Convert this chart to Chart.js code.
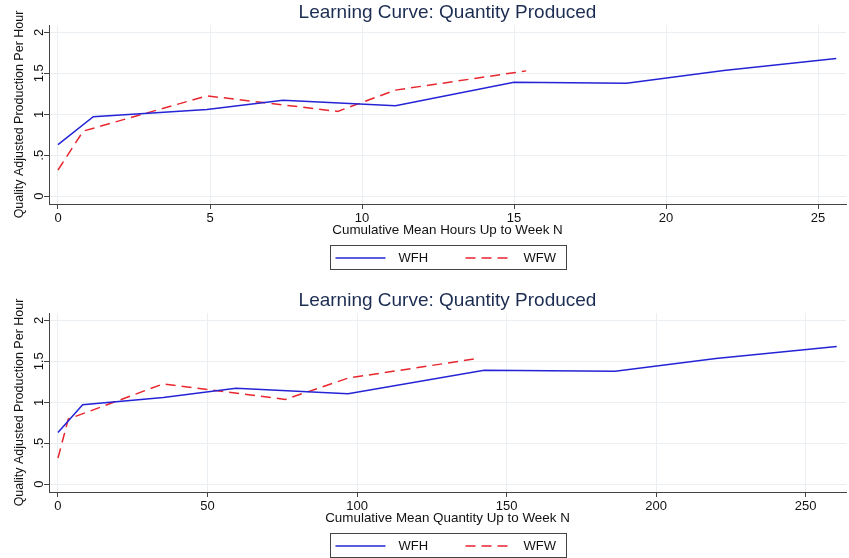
<!DOCTYPE html>
<html>
<head>
<meta charset="utf-8">
<script src="https://cdn.jsdelivr.net/npm/chart.js@4.4.1/dist/chart.umd.min.js"></script>
<style>
  html, body { margin: 0; padding: 0; background: #fff; }
  .panel { position: absolute; left: 0; width: 849px; }
  #topPanel { top: 0; height: 271px; }
  #bottomPanel { top: 288px; height: 270px; }
</style>
</head>
<body>
<div class="panel" id="topPanel"><canvas id="hoursChart"></canvas></div>
<div class="panel" id="bottomPanel"><canvas id="quantityChart"></canvas></div>
<script>
var chartTitle = 'Learning Curve: Quantity Produced';
var yTitle = 'Quality Adjusted Production Per Hour';
var yTicks = [0, 0.5, 1, 1.5, 2];

// top panel: cumulative mean hours
var hoursTicks = [0, 5, 10, 15, 20, 25];
var hoursWfhX = [0, 1.16, 4.9, 7.4, 11.1, 15.0, 18.7, 21.9, 25.6];
var hoursWfwX = [0, 0.83, 4.9, 9.2, 11.1, 15.4];

// bottom panel: cumulative mean quantity
var quantityTicks = [0, 50, 100, 150, 200, 250];
var quantityWfhX = [0, 8.25, 35.2, 59.5, 97, 142.5, 186.3, 220, 260.4];
var quantityWfwX = [0, 3.45, 35.2, 76, 97, 139.5];

// production per hour (same weeks in both panels)
var wfhY = [0.63, 0.97, 1.06, 1.17, 1.105, 1.39, 1.38, 1.535, 1.68];
var wfwY = [0.32, 0.795, 1.225, 1.035, 1.295, 1.53];

var BLUE = '#2424d6';
var RED = '#e8262d';
var FONT = '"Liberation Sans", Arial, Helvetica, sans-serif';

function toPoints(xs, ys) {
  return xs.map(function (x, i) { return { x: x, y: ys[i] }; });
}

function formatY(v) {
  if (v === 0) return '0';
  var s = String(v);
  return s.charAt(0) === '0' ? s.slice(1) : s;
}

// Stata-style boxed legend under the plot
var boxedLegend = {
  id: 'boxedLegend',
  afterDraw: function (chart) {
    var ctx = chart.ctx;
    var ca = chart.chartArea;
    var left = Math.round((ca.left + ca.right) / 2 - 117.5) + 0.5;
    var top = Math.round(ca.bottom + 41) + 0.5;
    var midY = top + 12.5;
    ctx.save();
    ctx.strokeStyle = '#444';
    ctx.lineWidth = 1;
    ctx.strokeRect(left, top, 236, 24);
    var items = [
      { x0: 5, x1: 55, tx: 68 },
      { x0: 135, x1: 182, tx: 193 }
    ];
    chart.data.datasets.forEach(function (ds, i) {
      var it = items[i];
      ctx.beginPath();
      ctx.setLineDash(ds.borderDash || []);
      ctx.strokeStyle = ds.borderColor;
      ctx.lineWidth = ds.borderWidth;
      ctx.moveTo(left + it.x0, midY);
      ctx.lineTo(left + it.x1, midY);
      ctx.stroke();
      ctx.setLineDash([]);
      ctx.fillStyle = '#111';
      ctx.font = '13px ' + FONT;
      ctx.textBaseline = 'middle';
      ctx.textAlign = 'left';
      ctx.fillText(ds.label, left + it.tx, midY + 0.5);
    });
    ctx.restore();
  }
};

function makeChart(canvasId, xTicks, xMin, xMax, xLabel, wfhX, wfwX, bottomPad) {
  var canvas = document.getElementById(canvasId);
  return new Chart(canvas, {
    type: 'line',
    data: {
      datasets: [
        {
          label: 'WFH',
          data: toPoints(wfhX, wfhY),
          borderColor: BLUE,
          backgroundColor: BLUE,
          borderWidth: 1.5,
          pointRadius: 0,
          tension: 0,
        },
        {
          label: 'WFW',
          data: toPoints(wfwX, wfwY),
          borderColor: RED,
          backgroundColor: RED,
          borderWidth: 1.5,
          borderDash: [10, 6],
          pointRadius: 0,
          tension: 0,
        },
      ],
    },
    options: {
      responsive: true,
      maintainAspectRatio: false,
      animation: false,
      layout: { padding: { top: 0, right: 3, bottom: bottomPad, left: 0 } },
      plugins: {
        legend: { display: false },
        tooltip: { enabled: false },
        title: {
          display: true,
          fullSize: false,
          text: chartTitle,
          color: '#1c2d52',
          font: { family: FONT, size: 19, weight: 'normal', lineHeight: 1.1 },
          padding: { top: 2.5, bottom: 1.6 },
        },
      },
      scales: {
        x: {
          type: 'linear',
          min: xMin,
          max: xMax,
          afterBuildTicks: function (scale) {
            scale.ticks = xTicks.map(function (v) { return { value: v }; });
          },
          afterFit: function (scale) { scale.height = 36; },
          grid: { color: '#e9eff2', tickColor: '#444', tickLength: 5, lineWidth: 1 },
          border: { color: '#444', width: 1 },
          ticks: {
            color: '#111',
            padding: 3,
            maxRotation: 0,
            font: { family: FONT, size: 13, lineHeight: 1 },
          },
          title: {
            display: true,
            text: xLabel,
            color: '#111',
            font: { family: FONT, size: 13.4, lineHeight: 1 },
            padding: { top: 0, bottom: 2.5 },
          },
        },
        y: {
          type: 'linear',
          min: -0.095,
          max: 2.09,
          afterBuildTicks: function (scale) {
            scale.ticks = yTicks.map(function (v) { return { value: v }; });
          },
          afterFit: function (scale) { scale.width = 49; },
          grid: { color: '#e9eff2', tickColor: '#444', tickLength: 5, lineWidth: 1 },
          border: { color: '#444', width: 1 },
          ticks: {
            color: '#111',
            padding: -4,
            minRotation: 90,
            maxRotation: 90,
            crossAlign: 'center',
            font: { family: FONT, size: 13 },
            callback: function (v) { return formatY(v); },
          },
          title: {
            display: true,
            text: yTitle,
            color: '#111',
            font: { family: FONT, size: 12.5, lineHeight: 1.2 },
            padding: { top: 12, bottom: 0 },
          },
        },
      },
    },
    plugins: [boxedLegend],
  });
}

makeChart('hoursChart', hoursTicks, -0.296, 25.92, 'Cumulative Mean Hours Up to Week N', hoursWfhX, hoursWfwX, 31);
makeChart('quantityChart', quantityTicks, -3.0, 263.5, 'Cumulative Mean Quantity Up to Week N', quantityWfhX, quantityWfwX, 30);
</script>
</body>
</html>
